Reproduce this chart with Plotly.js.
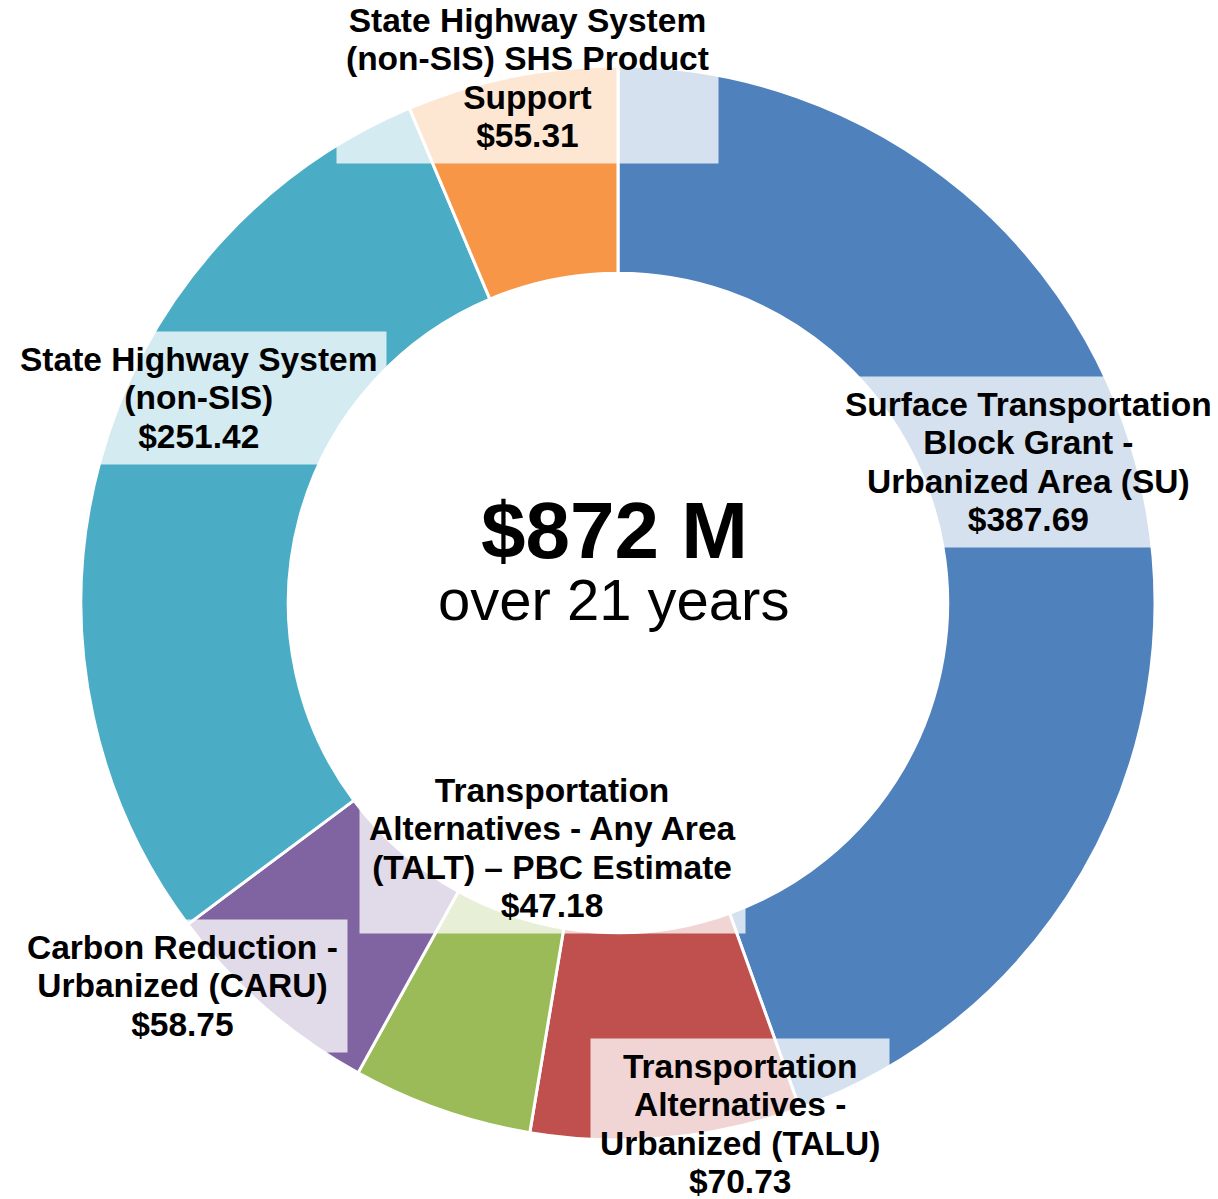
<!DOCTYPE html>
<html>
<head>
<meta charset="utf-8">
<script src="https://cdn.plot.ly/plotly-3.0.1.min.js"></script>
<style>html,body{margin:0;padding:0;background:#fff;}#chart{width:1218px;height:1199px;}</style>
</head>
<body>
<div id="chart"></div>
<script>
// ---- data ----
var categories = [
  'Surface Transportation Block Grant - Urbanized Area (SU)',
  'Transportation Alternatives - Urbanized (TALU)',
  'Transportation Alternatives - Any Area (TALT) \u2013 PBC Estimate',
  'Carbon Reduction - Urbanized (CARU)',
  'State Highway System (non-SIS)',
  'State Highway System (non-SIS) SHS Product Support'
];
var labelLines = [
  ['Surface Transportation', 'Block Grant -', 'Urbanized Area (SU)'],
  ['Transportation', 'Alternatives -', 'Urbanized (TALU)'],
  ['Transportation', 'Alternatives - Any Area', '(TALT) \u2013 PBC Estimate'],
  ['Carbon Reduction -', 'Urbanized (CARU)'],
  ['State Highway System', '(non-SIS)'],
  ['State Highway System', '(non-SIS) SHS Product', 'Support']
];
var values = [387.69, 70.73, 47.18, 58.75, 251.42, 55.31];
var colors = ['#4F81BD', '#C0504D', '#9BBB59', '#8064A2', '#4BACC6', '#F79646'];
var centerTitle = '$872 M';
var centerSub = 'over 21 years';

// ---- layout helpers (label placement in pixels of the 1218x1199 page) ----
var W = 1218, H = 1199;
var labelPos = [
  [1028, 462], [740, 1124], [552, 848], [182, 986], [198, 398], [527, 78]
];
function px(x) { return x / W; }
function py(y) { return 1 - y / H; }

var FONT = '"Liberation Sans", Arial, sans-serif';

var annotations = [];
for (var i = 0; i < categories.length; i++) {
  var lines = labelLines[i].concat(['$' + values[i].toFixed(2)]);
  var txt = lines.map(function (l) {
    return '<span style="font-size:33.5px">' + l + '</span>';
  }).join('<br>');
  annotations.push({
    text: txt,
    xref: 'paper', yref: 'paper',
    x: px(labelPos[i][0]), y: py(labelPos[i][1]),
    xanchor: 'center', yanchor: 'middle',
    showarrow: false,
    align: 'center',
    bgcolor: 'rgba(255,255,255,0.76)',
    borderpad: 9,
    font: {family: FONT, size: 29.5, color: '#000', weight: 'bold'}
  });
}
annotations.push({
  text: centerTitle, xref: 'paper', yref: 'paper',
  x: px(614), y: py(530), xanchor: 'center', yanchor: 'middle', showarrow: false,
  font: {family: FONT, size: 80, color: '#000', weight: 'bold'}
});
annotations.push({
  text: centerSub, xref: 'paper', yref: 'paper',
  x: px(613), y: py(599), xanchor: 'center', yanchor: 'middle', showarrow: false,
  font: {family: FONT, size: 58, color: '#000'}
});

var trace = {
  type: 'pie',
  labels: categories,
  values: values,
  hole: 0.614,
  sort: false,
  direction: 'clockwise',
  rotation: 0,
  textinfo: 'none',
  hoverinfo: 'label+value',
  marker: {colors: colors, line: {color: '#ffffff', width: 3}},
  domain: {x: [81 / W, 1155 / W], y: [1 - 1140 / H, 1 - 66 / H]},
  showlegend: false
};

var layout = {
  width: W, height: H,
  margin: {l: 0, r: 0, t: 0, b: 0},
  paper_bgcolor: '#ffffff',
  plot_bgcolor: '#ffffff',
  showlegend: false,
  annotations: annotations
};

Plotly.newPlot('chart', [trace], layout, {displayModeBar: false, staticPlot: true});
</script>
</body>
</html>
